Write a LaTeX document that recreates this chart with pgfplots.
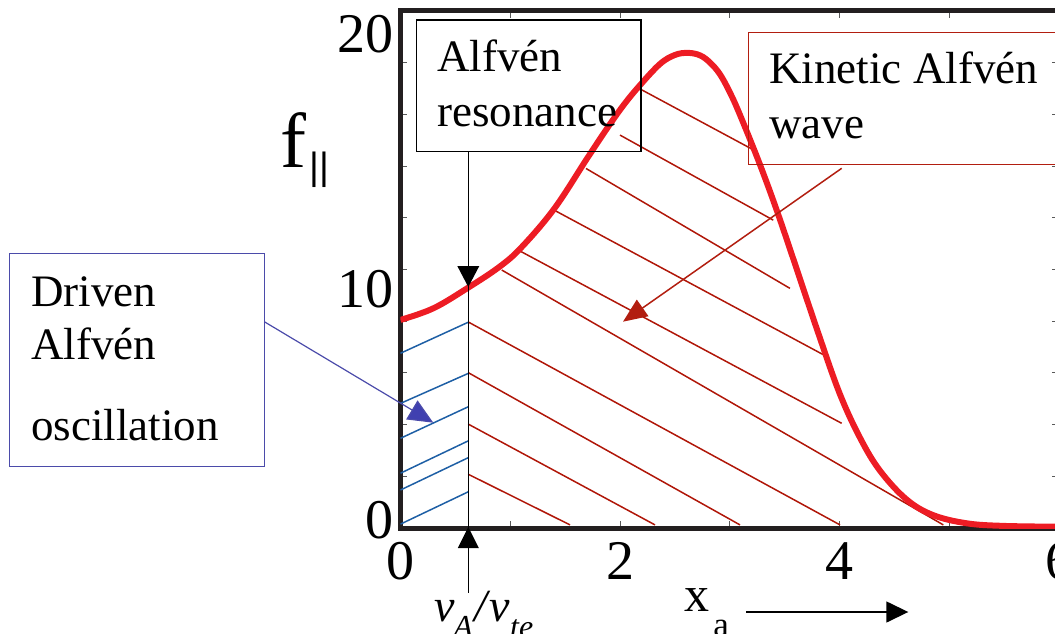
\documentclass[border=0pt]{standalone}
\usepackage{pgfplots}
\pgfplotsset{compat=1.18}
\usepackage{fontspec}
\setmainfont{Liberation Serif}
\newfontfamily\sansf{Liberation Sans}
\usetikzlibrary{arrows.meta}
\definecolor{curvered}{RGB}{237,28,36}
\definecolor{hatchred}{RGB}{176,22,8}
\definecolor{hatchblue}{RGB}{30,95,165}
\definecolor{boxblue}{RGB}{75,75,170}
\definecolor{headblue}{RGB}{64,64,176}
\definecolor{boxred}{RGB}{178,30,16}
\definecolor{axisblack}{RGB}{35,31,32}
\begin{document}
\begin{tikzpicture}
\begin{axis}[
  at={(0pt,0pt)}, anchor=south west,
  scale only axis, width=329.4pt, height=258.5pt,
  xmin=0, xmax=6, ymin=0, ymax=20,
  axis line style={line width=2.5pt, color=axisblack},
  xtick={0,2,4,6}, minor xtick={1,3,5},
  ytick={0,10,20}, minor ytick={2,4,6,8,12,14,16,18},
  tick align=inside,
  major tick length=3.5pt, minor tick length=3.5pt,
  every tick/.style={line width=0.5pt, color=black!65},
  xticklabels={0\hspace{4.5pt},2,4,6\hspace{14pt}},
  yticklabels={\smash{\raisebox{-5.45pt}{0}},\smash{\raisebox{-19.2pt}{10}},\smash{\raisebox{-20.95pt}{20}}},
  ticklabel style={font=\fontsize{28}{28}\selectfont},
  xticklabel style={anchor=north, inner sep=0pt, yshift=-7pt},
  yticklabel style={anchor=east, inner sep=0pt, xshift=-3.5pt},
]
% blue hatching (driven Alfven oscillation)
\addplot[hatchblue, line width=0.75pt] coordinates {(0,6.76) (0.617,7.96)};
\addplot[hatchblue, line width=0.75pt] coordinates {(0,4.82) (0.617,5.98)};
\addplot[hatchblue, line width=0.75pt] coordinates {(0,3.47) (0.617,4.69)};
\addplot[hatchblue, line width=0.75pt] coordinates {(0,2.12) (0.617,3.37)};
\addplot[hatchblue, line width=0.75pt] coordinates {(0,1.47) (0.617,2.72)};
\addplot[hatchblue, line width=0.75pt] coordinates {(0,0.15) (0.617,1.40)};
% red hatching (kinetic Alfven wave)
\addplot[hatchred, line width=0.75pt] coordinates {(2.175,17.0) (3.244,14.56)};
\addplot[hatchred, line width=0.75pt] coordinates {(1.999,15.20) (3.395,11.91)};
\addplot[hatchred, line width=0.75pt] coordinates {(1.689,13.91) (3.547,9.27)};
\addplot[hatchred, line width=0.75pt] coordinates {(1.398,12.3) (3.857,6.69)};
\addplot[hatchred, line width=0.75pt] coordinates {(1.073,10.75) (4.018,4.05)};
\addplot[hatchred, line width=0.75pt] coordinates {(0.922,9.98) (4.944,0.12)};
\addplot[hatchred, line width=0.75pt] coordinates {(0.617,7.97) (4.003,0.12)};
\addplot[hatchred, line width=0.75pt] coordinates {(0.617,6.01) (3.092,0.12)};
\addplot[hatchred, line width=0.75pt] coordinates {(0.617,4.02) (2.318,0.12)};
\addplot[hatchred, line width=0.75pt] coordinates {(0.617,2.08) (1.544,0.12)};
% distribution function
\addplot[curvered, line width=3pt, smooth, tension=0.6] coordinates {
(0,8.05) (0.30,8.5) (0.617,9.3) (0.9,10.1) (1.1,10.85) (1.4,12.35)
(1.7,14.3) (1.88,15.45) (2.03,16.35) (2.175,17.1) (2.363,17.95) (2.50,18.3)
(2.62,18.38) (2.73,18.28) (2.82,18.0) (2.91,17.55) (3.0,16.85) (3.09,16.0)
(3.27,14.1) (3.43,12.25) (3.61,10.0) (3.8,7.6) (4.0,5.2)
(4.19,3.45) (4.37,2.2) (4.61,1.1) (4.85,0.5) (5.16,0.18) (5.5,0.08) (6,0.05)};
\end{axis}
\begin{scope}[x=0.5pt, y=-0.5pt, shift={(-200.25pt,264pt)}]
% Alfven resonance box and arrows
\draw[black, line width=0.75pt] (416.7,20) rectangle (641,151.7);
\node[anchor=base west, inner sep=0pt, font=\fontsize{22.5}{27}\selectfont] at (437,71.7) {Alfvén};
\node[anchor=base west, inner sep=0pt, font=\fontsize{22.5}{27}\selectfont] at (437,126.7) {resonance};
\draw[black, line width=0.8pt] (468.3,151.7) -- (468.3,593);
\fill[black] (457.3,266) -- (479.3,266) -- (468.3,287) -- cycle;
\fill[black] (457.8,548) -- (478.8,548) -- (468.3,527) -- cycle;
% Kinetic Alfven wave box
\draw[boxred, line width=0.75pt] (748.3,32.7) rectangle (1080,164.3);
\node[anchor=base west, inner sep=0pt, font=\fontsize{22.5}{27}\selectfont] at (769,83.3) {Kinetic Alfvén};
\node[anchor=base west, inner sep=0pt, font=\fontsize{22.5}{27}\selectfont] at (769,138.3) {wave};
\draw[boxred, line width=0.75pt, -{Triangle[length=12pt,width=10pt]}] (841.7,168.3) -- (623,321.7);
% Driven Alfven oscillation box
\draw[boxblue, line width=0.75pt, fill=white] (9.3,253.3) rectangle (264.3,466.7);
\node[anchor=base west, inner sep=0pt, font=\fontsize{22.5}{27}\selectfont] at (31,306) {Driven};
\node[anchor=base west, inner sep=0pt, font=\fontsize{22.5}{27}\selectfont] at (31,359.3) {Alfvén};
\node[anchor=base west, inner sep=0pt, font=\fontsize{22.5}{27}\selectfont] at (31,440) {oscillation};
\draw[boxblue, line width=0.6pt, -{Triangle[length=12.5pt,width=11pt,fill=headblue]}] (264.3,321.7) -- (433.3,422.7);
% axis labels
\node[anchor=base west, inner sep=0pt, font=\fontsize{39}{39}\selectfont] at (280,168) {f};
\node[anchor=base west, inner sep=0pt, font=\sansf\fontsize{19}{19}\selectfont] at (309,179.3) {||};
\node[anchor=base west, inner sep=0pt, font=\fontsize{25}{25}\selectfont] at (684,611) {x};
\node[anchor=base west, inner sep=0pt, font=\fontsize{17.5}{17.5}\selectfont] at (713,636) {a};
\draw[black, line width=0.75pt, -{Triangle[length=11pt,width=10.5pt]}] (746,612) -- (908.3,612);
\node[anchor=base west, inner sep=0pt, font=\fontsize{23}{23}\selectfont\itshape] at (433.6,621)
  {v\kern-0.5pt\raisebox{-8pt}{\fontsize{16}{16}\selectfont A}\kern1pt/\kern1pt v\raisebox{-8pt}{\fontsize{16}{16}\selectfont te}};
\end{scope}
\pgfresetboundingbox
\path (-200.25pt,-52.5pt) rectangle (327.25pt,264pt);
\end{tikzpicture}
\end{document}
